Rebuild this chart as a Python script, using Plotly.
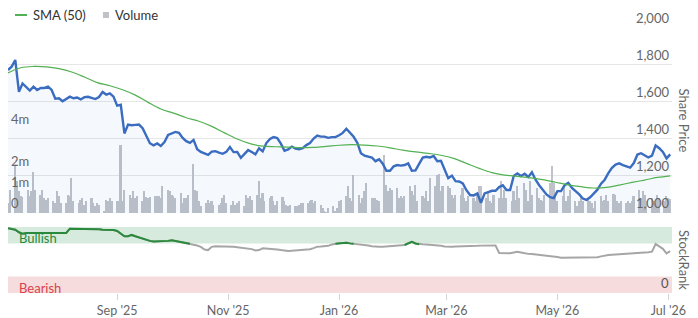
import pandas as pd
import plotly.graph_objects as go

# ---------------- data ----------------
price_dates = pd.date_range("2025-07-03", periods=183, freq="2D")
share_price = [
    1773, 1791, 1827, 1655, 1700, 1680, 1662, 1683, 1665, 1676,
    1676, 1683, 1665, 1618, 1620, 1604, 1618, 1629, 1620, 1624,
    1614, 1626, 1628, 1620, 1616, 1627, 1654, 1640, 1647, 1629,
    1580, 1585, 1430, 1478, 1474, 1476, 1478, 1458, 1420, 1377,
    1366, 1376, 1362, 1384, 1422, 1431, 1438, 1433, 1406, 1388,
    1379, 1395, 1345, 1330, 1320, 1314, 1332, 1334, 1326, 1320,
    1330, 1356, 1329, 1330, 1298, 1322, 1340, 1330, 1317, 1350,
    1333, 1378, 1400, 1410, 1405, 1375, 1336, 1344, 1359, 1348,
    1344, 1350, 1367, 1378, 1402, 1418, 1413, 1413, 1406, 1410,
    1410, 1420, 1433, 1455, 1434, 1412, 1380, 1323, 1310, 1307,
    1300, 1280, 1290, 1266, 1228, 1228, 1252, 1259, 1256, 1259,
    1268, 1228, 1230, 1265, 1299, 1304, 1300, 1308, 1280, 1282,
    1238, 1188, 1202, 1172, 1170, 1160, 1123, 1097, 1095, 1106,
    1055, 1106, 1113, 1120, 1120, 1140, 1150, 1124, 1124, 1200,
    1214, 1200, 1212, 1195, 1220, 1180, 1150, 1122, 1100, 1085,
    1080, 1118, 1118, 1150, 1163, 1135, 1120, 1100, 1078, 1071,
    1085, 1103, 1126, 1158, 1180, 1215, 1244, 1262, 1268, 1259,
    1251, 1245, 1270, 1316, 1323, 1310, 1300, 1310, 1365, 1350,
    1330, 1295, 1317,
]

sma_dates = pd.date_range("2025-07-03", periods=53, freq="7D")
sma_50 = [
    1757, 1785, 1792, 1790, 1780, 1762, 1735, 1705, 1688, 1666,
    1637, 1598, 1562, 1540, 1515, 1496, 1468, 1433, 1400, 1375,
    1361, 1358, 1356, 1353, 1355, 1360, 1366, 1369, 1367, 1362,
    1352, 1340, 1330, 1322, 1312, 1295, 1268, 1241, 1218, 1205,
    1198, 1190, 1180, 1166, 1152, 1142, 1135, 1138, 1151, 1165,
    1178, 1192, 1201,
]

volume_dates = pd.bdate_range("2025-07-03", "2026-07-02")
volume_m = [
    0.48, 1.10, 2.24, 1.52, 1.05, 0.81, 0.76, 1.10, 0.81, 1.05,
    1.95, 1.10, 0.86, 1.10, 0.71, 0.62, 0.71, 0.57, 0.48, 1.05,
    0.81, 0.48, 0.48, 0.86, 0.81, 1.67, 0.57, 0.48, 0.62, 0.71,
    0.38, 0.57, 0.71, 0.48, 0.33, 0.48, 0.38, 0.05, 0.62, 0.57,
    0.71, 0.57, 0.57, 0.57, 3.24, 0.57, 1.10, 0.86, 0.71, 1.05,
    0.71, 0.81, 0.57, 1.05, 0.76, 0.71, 0.76, 0.81, 0.81, 0.81,
    0.71, 1.29, 1.10, 1.05, 0.86, 0.81, 0.71, 0.95, 0.48, 0.71,
    0.71, 0.86, 2.33, 1.10, 1.05, 0.57, 0.33, 0.48, 0.62, 0.48,
    0.57, 0.38, 0.38, 0.48, 0.71, 0.86, 0.48, 0.38, 0.57, 0.38,
    0.48, 0.57, 0.33, 0.86, 0.71, 0.81, 0.62, 0.86, 1.52, 0.71,
    0.95, 0.57,
    0.71, 0.81, 0.57, 0.38, 0.57, 0.76, 0.57, 0.38, 0.33, 0.38,
    0.33, 0.33, 0.38, 0.48, 0.48, 0.48, 0.57, 0.62, 0.48, 0.57,
    0.38, 0.24, 0.10, 0.02, 0.24, 0.33, 0.10, 0.24, 0.57, 0.62,
    0.81, 1.29, 0.71, 0.57, 1.81, 0.86, 0.48, 0.71, 1.05, 1.43,
    0.71, 0.71, 0.71, 0.62, 0.57, 2.76, 1.33, 1.05, 1.19, 1.10,
    1.19, 0.71, 0.81,
    0.71, 0.81, 1.29, 1.05, 0.86, 1.33, 0.57, 0.81, 0.71, 1.05,
    0.57, 1.67, 1.29, 1.81, 1.86, 1.05, 1.29, 1.29, 1.19, 0.86,
    0.71, 0.86, 0.86, 1.19, 0.71, 0.57, 0.81, 0.71, 0.57, 0.86,
    1.29, 1.29, 0.71, 1.05, 0.57, 0.48, 0.86, 0.71, 1.52, 0.71,
    1.10, 0.71, 0.57, 1.05, 0.62, 1.29, 0.71, 1.43, 1.10, 0.57,
    1.52, 0.86, 1.19,
    0.71, 0.62, 0.57, 0.86, 1.43, 2.24, 1.43, 0.86, 0.57, 0.81,
    1.29, 0.57, 0.81, 1.10, 0.57, 0.33, 0.57, 0.81, 0.57, 0.71,
    0.57, 0.48, 0.24, 0.57, 0.81, 0.57, 0.62, 0.86, 0.57, 0.90,
    0.86, 0.57, 0.48, 0.57, 0.48, 0.57, 0.48, 0.57, 0.81, 1.10,
    0.71, 1.05, 0.86, 0.57, 0.71, 0.57, 0.48, 0.86, 0.71, 0.57,
    0.81, 0.71, 0.67,
]

rank_dates = pd.date_range("2025-07-03", periods=183, freq="2D")
stock_rank = [
    98, 97, 96, 92, 90,
    91, 91, 91.5, 91, 91, 91, 91, 91, 91, 91, 91, 91,
    97.5, 97.5, 97, 97, 97, 97, 96.5, 96.5, 96.5, 96, 96, 96, 95.5, 94,
    90, 86, 86, 88, 86, 84, 83, 81, 79, 78,
    78, 79, 79, 79, 80, 79, 77, 76.3, 76, 74.5,
    74, 72, 70, 66, 65, 70, 71, 71, 70.5, 70.5,
    70.2, 70, 69.5, 69, 68.5, 68, 66.5, 64.5, 65, 67.7,
    67.5, 67, 66.5, 66, 65, 64, 63.6, 64, 64.5, 65,
    65.5, 66, 66.2, 68, 70.2, 70.5, 71, 71.5, 73.5, 74.8,
    75.3, 75.8, 76.3, 75.2, 74.6, 74.3, 74, 73, 72, 71,
    70.2, 70, 70.2, 70.5, 71, 71.2, 71.5, 72, 72.7, 75.5,
    77.5, 75, 74, 73.8, 73.5, 73.2, 73, 72.7, 71.5, 70.5,
    70, 70.2, 70.5, 70.5, 70.8, 71, 71, 71, 71.5, 71.8,
    72, 72, 72.2, 72, 60.6, 60.3, 60.1, 60.2, 61.5, 62.6,
    61.5, 60, 59.3, 59, 58.5, 58, 57.5, 57, 56.5, 55.5,
    54.5, 53.5, 53.5, 53.6, 53.7, 53.8, 53.8, 53.9, 54, 54,
    54, 54.2, 55.5, 57, 57.6, 58, 58.5, 59, 59.3, 59.6,
    60, 60.3, 60.6, 61.1, 61.4, 61.8, 62.6, 74.2, 71.2, 67,
    60.1, 63.5,
]

x_tick_vals = ["2025-09-01", "2025-11-01", "2026-01-01", "2026-03-01", "2026-05-01", "2026-07-01"]
x_tick_text = ["Sep '25", "Nov '25", "Jan '26", "Mar '26", "May '26", "Jul '26"]
vol_tick_vals = [0, 1, 2, 4]
vol_tick_text = ["0", "1m", "2m", "4m"]
rank_axis_label = "0"
bullish_level = 75

# ---------------- figure ----------------
FONT = "Lato, 'Open Sans', sans-serif"
n_vol = min(len(volume_dates), len(volume_m))

SMA_COLOR = "#52b152"
VOL_COLOR = "#bfc2c8"

rank_green = []
for i, v in enumerate(stock_rank):
    prev_ok = i > 0 and stock_rank[i - 1] >= bullish_level
    next_ok = i < len(stock_rank) - 1 and stock_rank[i + 1] >= bullish_level
    rank_green.append(v if (v >= bullish_level or prev_ok or next_ok) else None)

fig = go.Figure()
fig.add_trace(go.Bar(
    x=volume_dates[:n_vol], y=volume_m[:n_vol], name="Volume",
    marker=dict(color=VOL_COLOR, line=dict(width=0)),
    width=0.9 * 86400000, xaxis="x", yaxis="y", showlegend=False,
    hoverinfo="skip",
))
fig.add_trace(go.Scatter(
    x=price_dates, y=share_price, mode="lines", name="Share Price",
    line=dict(color="#3a6cc0", width=2.4), fill="tozeroy",
    fillcolor="rgba(58,108,192,0.05)", showlegend=False,
    xaxis="x", yaxis="y2",
))
fig.add_trace(go.Scatter(
    x=sma_dates, y=sma_50, mode="lines", name="SMA (50)",
    line=dict(color=SMA_COLOR, width=1.2, shape="spline"),
    xaxis="x", yaxis="y2", showlegend=False,
))
fig.add_trace(go.Scatter(
    x=rank_dates, y=stock_rank, mode="lines", showlegend=False,
    line=dict(color="#a6a6a6", width=2), xaxis="x2", yaxis="y3",
))
fig.add_trace(go.Scatter(
    x=rank_dates, y=rank_green, mode="lines", showlegend=False,
    line=dict(color="#2a8a3c", width=2), connectgaps=False,
    xaxis="x2", yaxis="y3",
))

price_dom = [0.302, 1.0]
rank_dom = [0.0, 0.249]
x_range = ["2025-07-03", "2026-07-03"]
tick_font = dict(size=13, color="#666666")

fig.update_layout(
    width=698, height=318,
    margin=dict(l=8, r=26, t=28, b=25, autoexpand=False),
    paper_bgcolor="white", plot_bgcolor="white",
    font=dict(family=FONT, size=13, color="#666666"),
    bargap=0,
    showlegend=False,
    xaxis=dict(domain=[0, 1], anchor="y", range=x_range, type="date",
               showticklabels=False, showgrid=False, zeroline=False,
               showline=False, automargin=False),
    xaxis2=dict(domain=[0, 1], anchor="y3", range=x_range, type="date", matches="x",
                tickvals=x_tick_vals, ticktext=x_tick_text, ticks="outside",
                ticklen=6, tickcolor="#d4d4d4", showgrid=False, zeroline=False,
                showline=False, tickfont=dict(size=12.5, color="#666666"),
                automargin=False, ticklabeloverflow="allow"),
    yaxis=dict(domain=price_dom, anchor="x", side="left", range=[0, 8.81],
               tickvals=vol_tick_vals, ticktext=vol_tick_text,
               ticklabelposition="inside top", showgrid=False, zeroline=False,
               tickfont=tick_font, automargin=False, ticklabeloverflow="allow"),
    yaxis2=dict(overlaying="y", anchor="x", side="right", range=[1000, 2000],
                dtick=200, tickformat=",", ticklabelposition="inside top",
                gridcolor="#e6e6e6", gridwidth=1, zeroline=False,
                tickfont=tick_font, automargin=False, ticklabeloverflow="allow"),
    yaxis3=dict(domain=rank_dom, anchor="x2", side="right", range=[0, 100],
                showticklabels=False, showgrid=False, zeroline=False,
                automargin=False),
    shapes=[
        dict(type="rect", xref="paper", x0=0, x1=1, yref="y3", y0=75, y1=100,
             fillcolor="#d6ebdd", line=dict(width=0), layer="below"),
        dict(type="rect", xref="paper", x0=0, x1=1, yref="y3", y0=0, y1=25,
             fillcolor="#f6dcdd", line=dict(width=0), layer="below"),
        # legend symbols
        dict(type="line", xref="paper", xsizemode="pixel", xanchor=0, x0=7, x1=19,
             yref="paper", ysizemode="pixel", yanchor=1, y0=13, y1=13,
             line=dict(color=SMA_COLOR, width=2)),
        dict(type="rect", xref="paper", xsizemode="pixel", xanchor=0, x0=95, x1=101,
             yref="paper", ysizemode="pixel", yanchor=1, y0=10, y1=16,
             fillcolor=VOL_COLOR, line=dict(width=0)),
    ],
    annotations=[
        dict(text="SMA (50)", xref="paper", x=0, xanchor="left", xshift=23,
             yref="paper", y=1, yanchor="middle", yshift=13, showarrow=False,
             font=dict(size=13, color="#333333")),
        dict(text="Volume", xref="paper", x=0, xanchor="left", xshift=105,
             yref="paper", y=1, yanchor="middle", yshift=13, showarrow=False,
             font=dict(size=13, color="#333333")),
        dict(text="Share Price", xref="paper", x=1, xanchor="left", xshift=2,
             yref="paper", y=sum(price_dom) / 2, yanchor="middle", textangle=90,
             showarrow=False, font=dict(size=13, color="#666666")),
        dict(text="StockRank", xref="paper", x=1, xanchor="left", xshift=2,
             yref="paper", y=sum(rank_dom) / 2, yanchor="middle", textangle=90,
             showarrow=False, font=dict(size=13, color="#666666")),
        dict(text=rank_axis_label, xref="paper", x=1, xanchor="right", xshift=-1,
             yref="y3", y=0, yanchor="bottom", showarrow=False,
             font=dict(size=13, color="#555555")),
        dict(text="Bullish", xref="paper", x=0, xanchor="left", xshift=9,
             yref="y3", y=83, yanchor="middle", showarrow=False,
             font=dict(size=13, color="#2a8a3c")),
        dict(text="Bearish", xref="paper", x=0, xanchor="left", xshift=9,
             yref="y3", y=8, yanchor="middle", showarrow=False,
             font=dict(size=13, color="#d9434f")),
    ],
)

fig.write_html("out.html")
